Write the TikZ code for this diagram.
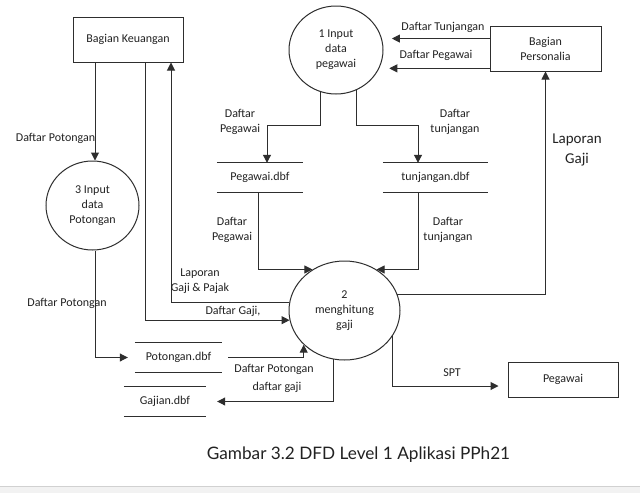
\documentclass[tikz,border=0pt]{standalone}
\usepackage{fontspec}
\setmainfont{Carlito}
\newfontfamily\capfont{Lato}
\usetikzlibrary{arrows.meta,shapes.geometric}
\definecolor{linec}{HTML}{2E2E2E}
\definecolor{txtc}{HTML}{222222}
\tikzset{
  lbl/.style={text=txtc,font=\fontsize{12}{15}\selectfont,align=center,inner sep=0pt},
  extbox/.style={draw=linec,line width=1pt,rectangle,text=txtc,font=\fontsize{12}{15}\selectfont,align=center,inner sep=0pt},
  proc/.style={draw=linec,line width=1pt,ellipse,text=txtc,font=\fontsize{12}{15}\selectfont,align=center,inner sep=0pt},
  store/.style={text=txtc,font=\fontsize{12}{15}\selectfont,inner sep=0pt,minimum height=29pt,
    append after command={(\tikzlastnode.north west) edge[draw=linec,line width=1pt] (\tikzlastnode.north east)
      (\tikzlastnode.south west) edge[draw=linec,line width=1pt] (\tikzlastnode.south east)}},
  flow/.style={draw=linec,line width=1pt,-{Triangle[length=8pt,width=8pt]}}
}
\begin{document}
\begin{tikzpicture}[x=1pt,y=-1pt]
\useasboundingbox (0,0) rectangle (640,493);
\fill[white] (0,0) rectangle (640,493);
\fill[black!5] (0,487) rectangle (640,493);
\draw[black!18,line width=0.8pt] (0,486.6) -- (640,486.6);

% external entities
\node[extbox,minimum width=110pt,minimum height=45pt] (keu) at (128,39.5) {Bagian Keuangan};
\node[extbox,minimum width=111pt,minimum height=45pt] (pers) at (545.5,48.5) {Bagian\\Personalia};
\node[extbox,minimum width=110pt,minimum height=35pt] (peg) at (563,379.5) {Pegawai};

% processes
\node[proc,minimum width=94pt,minimum height=88pt] (p1) at (336,50) {1 Input\\data\\pegawai};
\node[proc,minimum width=111pt,minimum height=99pt] (p2) at (344.5,310.5) {2\\menghitung\\gaji};
\node[proc,minimum width=93pt,minimum height=89pt] (p3) at (92.5,205.5) {3 Input\\data\\Potongan};

% data stores
\node[store,minimum width=86pt] (sp) at (260,177.5) {Pegawai.dbf};
\node[store,minimum width=105pt] (st) at (435.5,177.5) {tunjangan.dbf};
\node[store,minimum width=87pt] (spot) at (178.5,357.5) {Potongan.dbf};
\node[store,minimum width=82pt] (sg) at (165,401.5) {Gajian.dbf};

% flows
\draw[flow] ([xshift=2.5pt]p3.north |- keu.south) -- ([xshift=2.5pt]p3.north);
\node[lbl] (l1) at (55.5,138) {Daftar Potongan};

\draw[flow] ([xshift=17pt]keu.south) |- (p2.190);
\node[lbl] (l2) at (233,311) {Daftar Gaji,};

\draw[flow] (p2.172) -| ([xshift=43pt]keu.south);
\node[lbl] (l3) at (200,281.5) {Laporan\\Gaji \& Pajak};

\draw[flow,shorten >=10pt] (p1.14 -| pers.west) -- (p1.14);
\node[lbl] (l4) at (443,27) {Daftar Tunjangan};
\draw[flow,shorten >=10pt] (p1.-23 -| pers.west) -- (p1.-23);
\node[lbl] (l5) at (436,55) {Daftar Pegawai};

\draw[flow] (p1.250) |- ([xshift=7pt,yshift=37pt]sp.north) -- ([xshift=7pt]sp.north);
\node[lbl] (l6) at (240,121.5) {Daftar\\Pegawai};
\draw[flow] (p1.297) |- ([xshift=-17.5pt,yshift=37pt]st.north) -- ([xshift=-17.5pt]st.north);
\node[lbl] (l7) at (455,121.5) {Daftar\\tunjangan};

\draw[flow] ([xshift=-2pt]sp.south) |- (p2.128);
\node[lbl] (l8) at (232,229.5) {Daftar\\Pegawai};
\draw[flow] ([xshift=-17.5pt]st.south) |- (p2.52);
\node[lbl] (l9) at (448,229.5) {Daftar\\tunjangan};

\draw[flow] (p2.17) -| (pers.south);
\node[lbl,font=\fontsize{15}{20}\selectfont] (l10) at (577,150) {Laporan\\Gaji};

\draw[flow,shorten >=9pt] (p2.332) |- ([yshift=-6.5pt]peg.west);
\node[lbl] (l11) at (452,373) {SPT};

\draw[flow,shorten >=7pt] ([xshift=2.5pt]p3.south) |- (spot.west);
\node[lbl] (l12) at (67,303) {Daftar Potongan};

\draw[flow] ([xshift=6pt]spot.east) -| (p2.220);
\node[lbl] (l13) at (274,369) {Daftar Potongan};

\draw[flow,shorten >=11pt] (p2.257) |- (sg.east);
\node[lbl] (l14) at (277,387) {daftar gaji};

\node[text=txtc,font=\capfont\fontsize{17.2}{20}\selectfont,inner sep=0pt] (cap) at (358.5,455) {Gambar 3.2 DFD Level 1 Aplikasi PPh21};
\end{tikzpicture}
\end{document}
